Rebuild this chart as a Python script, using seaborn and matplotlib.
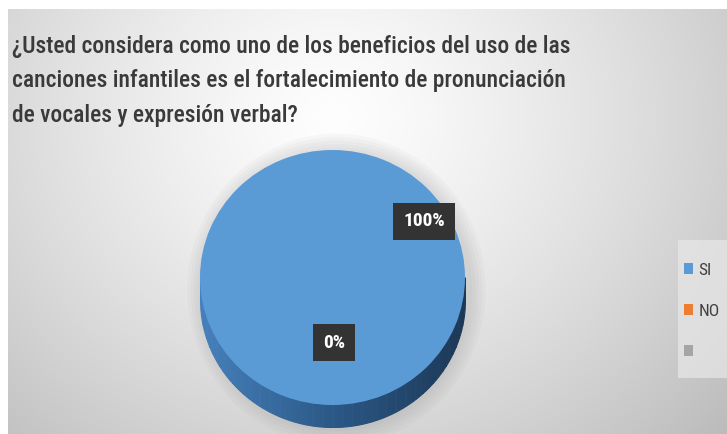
import numpy as np
import matplotlib
matplotlib.use("Agg")
import matplotlib.pyplot as plt
from matplotlib import font_manager
import seaborn as sns
from matplotlib.patches import Rectangle, Ellipse

# ---- data ----
categories = ["SI", "NO", ""]
values = [100, 0, 0]
colors = ["#5B9BD5", "#ED7D31", "#A5A5A5"]
title_lines = ["¿Usted considera como uno de los beneficios del uso de las",
               "canciones infantiles es el fortalecimiento de pronunciación",
               "de vocales y expresión verbal?"]

sns.set_theme(style="white")
avail = {f.name for f in font_manager.fontManager.ttflist}
cands = ["Liberation Sans Narrow", "Roboto Condensed", "Open Sans Condensed", "Roboto", "Lato", "Open Sans"]
main_font = next((c for c in cands if c in avail), "DejaVu Sans")
plt.rcParams['font.family'] = [main_font, 'DejaVu Sans']

W, H = 727, 434
fig = plt.figure(figsize=(W / 100, H / 100), dpi=100)
fig.patch.set_facecolor("white")

# ---- background gradient (chart area) ----
bg = fig.add_axes([0, 0, 1, 1])
bg.set_xlim(0, W)
bg.set_ylim(H, 0)
bg.axis("off")
yy, xx = np.mgrid[0:H, 0:W]
d = np.sqrt(((xx - 330) / 470.0) ** 2 + ((yy - 110) / 420.0) ** 2)
g = 0.995 - 0.22 * np.clip(d, 0, 1.3) ** 1.3
img = np.dstack([g, g, g])
bg.imshow(img, extent=[8, W, H, 9], aspect="auto", zorder=0, interpolation="bilinear")
# legend backdrop
bg.add_patch(Rectangle((678, 240), 49, 138, facecolor="#e8e8e8", edgecolor="none", alpha=0.7, zorder=1))

# ---- title (fit first line to its width in the reference) ----
renderer = fig.canvas.get_renderer()
weight = "medium"
fs = 16.0
probe = bg.text(0, 0, title_lines[0], fontsize=fs, fontweight=weight)
wpx = probe.get_window_extent(renderer).width
probe.remove()
fs = fs * 561.0 / wpx
for i, line in enumerate(title_lines):
    bg.text(12, 53 + i * 34.5, line, ha="left", va="baseline", fontsize=fs, color="#3a3a3a",
            fontweight=weight, zorder=3)

# ---- pie ----
left, right, top, bottom = 200, 465, 150, 427
face_h = 255
depth_px = bottom - top - face_h
ax = fig.add_axes([left / W, (H - bottom) / H, (right - left) / W, (bottom - top) / H])
depth = depth_px / (face_h / 2)

# soft shadow
for k in range(5):
    s = 1.0 + 0.025 * (k + 1)
    ax.add_patch(Ellipse((0.03, -depth * 0.55), 2 * s, (2 + depth) * s, facecolor="#7a7a7a",
                         edgecolor="none", alpha=0.045, zorder=0, clip_on=False))

# side of the 3D pie (gradient strips)
n = 80
xs = np.linspace(-1, 1, 800)
ylow = -np.sqrt(np.clip(1 - xs ** 2, 0, 1))
c0 = np.array([0x46, 0x80, 0xBC]) / 255
c1 = np.array([0x2B, 0x58, 0x86]) / 255
c2 = np.array([0x1C, 0x38, 0x57]) / 255
for i in range(n):
    x0, x1 = -1 + 2 * i / n, -1 + 2 * (i + 1) / n
    m = (xs >= x0 - 1e-9) & (xs <= x1 + 1e-9)
    t = i / (n - 1)
    if t < 0.5:
        col = c0 * (1 - 2 * t) + c1 * 2 * t
    else:
        col = c1 * (2 - 2 * t) + c2 * (2 * t - 1)
    ax.fill_between(xs[m], ylow[m] - depth, 0, color=col, lw=0.8, edgecolor=col, zorder=1)

wedges, _ = ax.pie(values, colors=colors, startangle=90, counterclock=False,
                   radius=1, center=(0, 0), wedgeprops=dict(linewidth=0))
for w in wedges:
    w.set_zorder(2)
ax.set_aspect("auto")
ax.set_xlim(-1, 1)
ax.set_ylim(-1 - depth, 1)
ax.axis("off")

# data labels
total = sum(values)
label_pos = [(0.69, 0.44), (0.01, -0.51), (0.01, -0.51)]
for v, (lx, ly) in zip(values, label_pos):
    ax.text(lx, ly, f"{v / total * 100:.0f}%", ha="center", va="center", color="white",
            fontsize=14, fontweight="bold", zorder=5,
            bbox=dict(boxstyle="square,pad=0.5", facecolor="#333333", edgecolor="none"))

# ---- legend ----
handles = [Rectangle((0, 0), 1, 1, facecolor=c, edgecolor="none") for c in colors]
leg = fig.legend(handles, categories, loc="upper left", bbox_to_anchor=(668 / W, 1 - 247 / H),
                 frameon=False, fontsize=12.5, handlelength=0.55, handleheight=0.6,
                 handletextpad=0.3, labelspacing=1.5, labelcolor="#404040")

fig.savefig("out.png", dpi=100)
